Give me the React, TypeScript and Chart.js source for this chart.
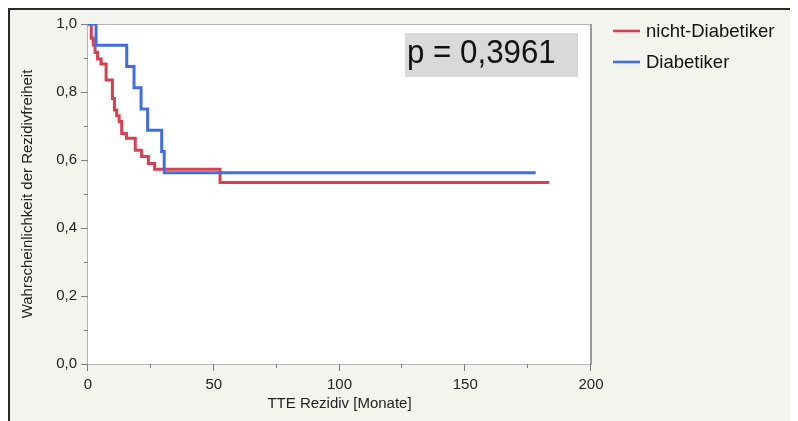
import React, { useEffect, useRef } from 'react';
import { Chart, registerables } from 'chart.js';
Chart.register(...registerables);

const seriesNames = ['nicht-Diabetiker', 'Diabetiker'];
const seriesColors = ['#d8404f', '#3e6fe0'];
const redTimes = [0, 1.3, 2.1, 2.8, 3.8, 5.2, 7.2, 9.7, 10.5, 11.4, 12.4, 13.4, 15.3, 18.8, 21.3, 24.0, 26.5, 52.5, 183.4];
const redSurv = [1, 0.958, 0.938, 0.916, 0.897, 0.882, 0.835, 0.781, 0.747, 0.73, 0.713, 0.678, 0.664, 0.629, 0.61, 0.59, 0.573, 0.534, 0.534];
const blueTimes = [0, 3.2, 15.4, 18.3, 21.1, 23.7, 29.3, 30.3, 178];
const blueSurv = [1, 0.9375, 0.875, 0.8125, 0.75, 0.6875, 0.625, 0.5625, 0.5625];
const xMajorTicks = [0, 50, 100, 150, 200];
const xMinorTicks = [25, 75, 125, 175];
const yMajorTicks = [0, 0.2, 0.4, 0.6, 0.8, 1.0];
const yMinorTicks = [0.1, 0.3, 0.5, 0.7, 0.9];
const xTitle = 'TTE Rezidiv [Monate]';
const yTitle = 'Wahrscheinlichkeit der Rezidivfreiheit';
const pValueText = 'p = 0,3961';

const FONT = '"Liberation Sans", Arial, Helvetica, sans-serif';

const decorPlugin = {
  id: 'decor',
  beforeDraw(chart: any) {
    const { ctx, chartArea: a } = chart;
    ctx.save();
    ctx.fillStyle = '#ffffff';
    ctx.fillRect(a.left, a.top, a.right - a.left, a.bottom - a.top);
    ctx.restore();
  },
  beforeDatasetsDraw(chart: any) {
    const { ctx, chartArea: a, scales } = chart;
    ctx.save();
    ctx.strokeStyle = '#b4b4b4';
    ctx.lineWidth = 1;
    ctx.strokeRect(a.left - 0.5, a.top + 0.5, a.right - a.left + 1, a.bottom - a.top);
    ctx.strokeStyle = '#9a9a9a';
    ctx.lineWidth = 2;
    ctx.beginPath();
    ctx.moveTo(a.right, a.top);
    ctx.lineTo(a.right, a.bottom + 1);
    ctx.stroke();
    ctx.strokeStyle = '#808080';
    ctx.lineWidth = 1;
    const y = scales.y;
    const x = scales.x;
    ctx.beginPath();
    yMajorTicks.forEach((v) => {
      const py = Math.round(y.getPixelForValue(v)) + 0.5;
      ctx.moveTo(a.left - 7, py);
      ctx.lineTo(a.left, py);
    });
    yMinorTicks.forEach((v) => {
      const py = Math.round(y.getPixelForValue(v)) + 0.5;
      ctx.moveTo(a.left - 4, py);
      ctx.lineTo(a.left, py);
    });
    xMajorTicks.forEach((v) => {
      const px = Math.round(x.getPixelForValue(v)) - 0.5;
      ctx.moveTo(px, a.bottom);
      ctx.lineTo(px, a.bottom + 7);
    });
    xMinorTicks.forEach((v) => {
      const px = Math.round(x.getPixelForValue(v)) - 0.5;
      ctx.moveTo(px, a.bottom);
      ctx.lineTo(px, a.bottom + 4);
    });
    ctx.stroke();
    ctx.restore();
  },
  afterDraw(chart: any) {
    const { ctx, chartArea: a } = chart;
    ctx.save();
    // p-value box
    const bx = a.left + 317;
    const by = a.top + 9;
    ctx.fillStyle = '#d9d9d9';
    ctx.fillRect(bx, by, 173, 44);
    ctx.fillStyle = '#111111';
    ctx.font = `34px ${FONT}`;
    ctx.textAlign = 'left';
    ctx.textBaseline = 'alphabetic';
    ctx.save();
    ctx.translate(bx + 2, by + 30);
    ctx.scale(0.92, 1);
    ctx.fillText(pValueText, 0, 0);
    ctx.restore();
    // legend
    const lx = a.right + 22;
    ctx.font = `18.5px ${FONT}`;
    ctx.textBaseline = 'middle';
    chart.data.datasets.forEach((ds: any, i: number) => {
      const ly = a.top + 7 + i * 31;
      ctx.strokeStyle = ds.borderColor;
      ctx.lineWidth = 2.6;
      ctx.beginPath();
      ctx.moveTo(lx, ly);
      ctx.lineTo(lx + 27, ly);
      ctx.stroke();
      ctx.fillStyle = '#111111';
      ctx.fillText(ds.label, lx + 33, ly + 1);
    });
    ctx.restore();
  },
};

export default function App() {
  const ref = useRef<HTMLCanvasElement | null>(null);
  useEffect(() => {
    document.documentElement.style.overflow = 'hidden';
    document.body.style.overflow = 'hidden';
    const canvas = ref.current!;
    const chart = new Chart(canvas, {
      type: 'line',
      data: {
        datasets: [
          {
            label: seriesNames[0],
            data: redTimes.map((t, i) => ({ x: t, y: redSurv[i] })),
            borderColor: seriesColors[0],
            borderWidth: 3,
            pointRadius: 0,
            stepped: 'before',
            fill: false,
            order: 1,
          },
          {
            label: seriesNames[1],
            data: blueTimes.map((t, i) => ({ x: t, y: blueSurv[i] })),
            borderColor: seriesColors[1],
            borderWidth: 3,
            pointRadius: 0,
            stepped: 'before',
            fill: false,
            order: 0,
          },
        ],
      },
      options: {
        animation: false,
        responsive: false,
        devicePixelRatio: 1,
        layout: { padding: { left: 0, right: 207, top: 14, bottom: 0 } },
        plugins: { legend: { display: false }, tooltip: { enabled: false } },
        scales: {
          x: {
            type: 'linear',
            min: 0,
            max: 200,
            afterFit: (s: any) => { s.height = 57; },
            ticks: {
              stepSize: 50,
              autoSkip: false,
              maxRotation: 0,
              padding: 5,
              color: '#222222',
              font: { family: FONT, size: 15 },
            },
            grid: { drawOnChartArea: false, drawTicks: true, tickLength: 7, color: 'transparent' },
            border: { display: false },
            title: {
              display: true,
              text: xTitle,
              color: '#222222',
              font: { family: FONT, size: 15 },
              padding: { top: 0, bottom: 8 },
            },
          },
          y: {
            type: 'linear',
            min: 0,
            max: 1,
            afterFit: (s: any) => { s.width = 78; },
            ticks: {
              stepSize: 0.2,
              autoSkip: false,
              padding: 4,
              color: '#222222',
              font: { family: FONT, size: 15 },
              callback: (v: any) => Number(v).toFixed(1).replace('.', ','),
            },
            grid: { drawOnChartArea: false, drawTicks: true, tickLength: 7, color: 'transparent' },
            border: { display: false },
            title: {
              display: true,
              text: yTitle,
              color: '#222222',
              font: { family: FONT, size: 15 },
              padding: { top: 9, bottom: 0 },
            },
          },
        },
      },
      plugins: [decorPlugin],
    } as any);
    return () => chart.destroy();
  }, []);
  return (
    <div
      style={{
        width: 790,
        height: 413,
        borderLeft: '2px solid #2a2a2a',
        borderTop: '2px solid #2a2a2a',
        background: '#f4f4ef',
        overflow: 'hidden',
      }}
    >
      <canvas ref={ref} width={788} height={411} style={{ display: 'block' }} />
    </div>
  );
}
